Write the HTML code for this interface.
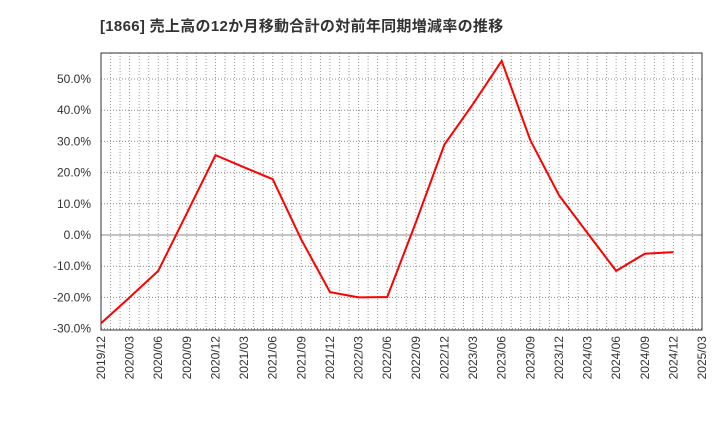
<!DOCTYPE html>
<html><head><meta charset="utf-8"><style>
body{margin:0;background:#fff;width:720px;height:440px;overflow:hidden}
text{font-family:"Liberation Sans","Noto Sans CJK JP",sans-serif}
</style></head><body>
<svg id="c" width="720" height="440"></svg>
<script>
const categories=["2019/12","2020/03","2020/06","2020/09","2020/12","2021/03","2021/06","2021/09","2021/12","2022/03","2022/06","2022/09","2022/12","2023/03","2023/06","2023/09","2023/12","2024/03","2024/06","2024/09","2024/12","2025/03"];
const values=[-28.3,-20,-11.5,7,25.6,21.7,17.9,-1.5,-18.3,-20,-19.9,4,29,42,55.8,30.4,12.8,0.6,-11.5,-6,-5.5];
const yTicks=[-30,-20,-10,0,10,20,30,40,50];
const yTickLabels=["-30.0%","-20.0%","-10.0%","0.0%","10.0%","20.0%","30.0%","40.0%","50.0%"];
const L=101,R=702,T=53,B=330;
const NS="http://www.w3.org/2000/svg";
const svg=document.getElementById('c');
const X=i=>L+(R-L)*i/(categories.length-1);
const Y=v=>235-v*3.12;
function mk(t,a,p){const e=document.createElementNS(NS,t);for(const k in a)e.setAttribute(k,a[k]);(p||svg).appendChild(e);return e;}
const title=mk('text',{x:100,y:31,'font-size':15,'font-weight':'bold',fill:'#333','letter-spacing':'0.3'});


title.textContent='[1866]  売上高の12か月移動合計の対前年同期増減率の推移';
const grid=mk('g',{});


for(let m=1;m<(categories.length-1)*3;m++){const x=L+(R-L)*m/((categories.length-1)*3);
 mk('line',{x1:x,x2:x,y1:T,y2:B,stroke:'#999','stroke-dasharray':'1,2','stroke-width':1},grid);}
yTicks.forEach((v,i)=>{const y=Y(v);
 mk('line',{x1:L,x2:R,y1:y,y2:y,stroke:'#888','stroke-dasharray':v===0?'':'1,2','stroke-width':1},grid);
 const t=mk('text',{x:91,y:y+4,'font-size':12,'text-anchor':'end',fill:'#333'});
 
 
 t.textContent=yTickLabels[i];});
categories.forEach((c,i)=>{const x=X(i);
 const t=mk('text',{x:0,y:0,'font-size':12,'text-anchor':'end',fill:'#333',transform:`translate(${x+4},${B+6}) rotate(-90)`});
 
 
 t.textContent=c;});
const frame=mk('rect',{x:L,y:T,width:R-L,height:B-T,fill:'none',stroke:'#333','stroke-width':1});


const line=mk('polyline',{points:values.map((v,i)=>X(i)+','+Y(v)).join(' '),fill:'none',stroke:'#f00','stroke-width':2});


</script>
</body></html>
